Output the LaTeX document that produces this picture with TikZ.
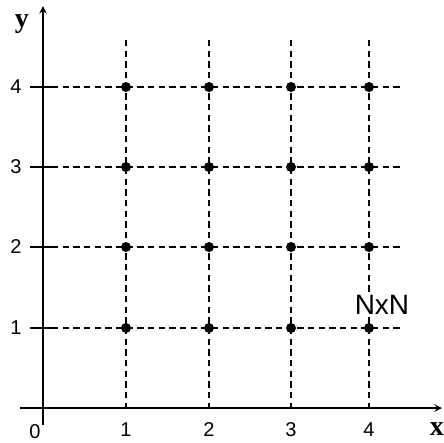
\documentclass[tikz,border=0pt]{standalone}
\usepackage{fontspec}
\setmainfont{Liberation Sans}
\newfontfamily\assefont{Liberation Serif}
\begin{document}
\begin{tikzpicture}[x=0.75pt,y=-0.75pt,
        griglia/.style={dashed,dash pattern=on 4.8pt off 3.2pt,line width=1.1pt},
        asse/.style={line width=1.5pt,-stealth},
        punto/.style={circle,fill=black,inner sep=0pt,minimum size=7.5pt},
        cifra/.style={font=\fontsize{15}{15}\selectfont,inner sep=0pt},
        nomeasse/.style={font=\assefont\bfseries\fontsize{21}{21}\selectfont,inner sep=0pt}]

        % Area del disegno (444 x 443 px)
        \useasboundingbox (0,0) rectangle (444,443);

        % Linee tratteggiate della griglia
        \foreach \x in {126,209,291,369}
            \draw[griglia] (\x,40) -- (\x,408);
        \foreach \y in {87,167,247,328}
            \draw[griglia] (52,\y) -- (402,\y);

        % Tacche sull'asse y
        \foreach \y in {87,167,247,328}
            \draw[line width=1.1pt] (30,\y) -- (52,\y);

        % Assi
        \draw[asse] (43,425) -- (43,6);
        \draw[asse] (20,408) -- (442,408);

        % Punti della griglia
        \foreach \x [count=\i] in {126,209,291,369}
            \foreach \y [count=\j] in {328,247,167,87}
                \node[punto] (p\i\j) at (\x,\y) {};

        % Etichette dei valori
        \foreach \x [count=\i] in {126,209,291,369}
            \node[cifra] (ex\i) at (\x,430) {\i};
        \foreach \y [count=\j] in {328,247,167,87}
            \node[cifra] (ey\j) at (16,\y) {\j};
        \node[cifra] (zero) at (35,432) {0};

        % Nomi degli assi
        \node[nomeasse] (nomey) at (22,24) {y};
        \node[nomeasse] (nomex) at (437,429) {x};

        % Dimensione della griglia
        \node[fill=white,inner sep=1pt,font=\fontsize{21}{21}\selectfont] (dim) at (382,305) {NxN};

    \end{tikzpicture}
\end{document}
